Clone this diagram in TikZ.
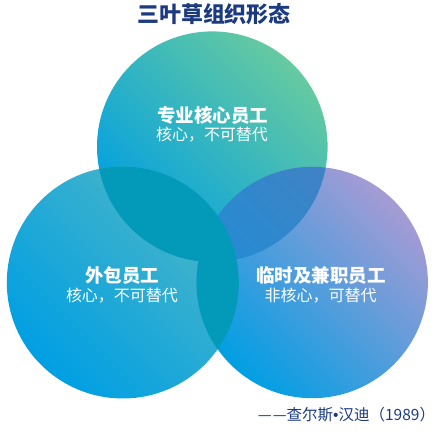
\documentclass[tikz,border=0pt]{standalone}
\usepackage{fontspec}
\setmainfont{Noto Sans CJK SC}
\newfontfamily\libfont{Liberation Sans}
\begin{document}
\begin{tikzpicture}[x=1pt,y=1pt,
  title/.style={font=\bfseries\fontsize{22}{25}\selectfont, text=navy},
  head/.style={font=\bfseries\fontsize{18.5}{22}\selectfont, text=white},
  sub/.style={font=\fontsize{16}{19}\selectfont, text=white},
  credit/.style={font=\fontsize{15.5}{17}\selectfont, text=navy}]
\definecolor{navy}{HTML}{1B3A80}
\definecolor{blueA}{HTML}{009FE3}
\definecolor{greenT}{HTML}{66CAA0}
\definecolor{tealL}{HTML}{4CB6C6}
\definecolor{lavR}{HTML}{A69BD4}
\definecolor{lap}{HTML}{0399B8}
\definecolor{lapA}{HTML}{1C8FD8}
\definecolor{lapB}{HTML}{4A7EBE}
\useasboundingbox (0,0) rectangle (448,436);
\coordinate (T) at (212.3,289.3);
\coordinate (L) at (122.8,153.5);
\coordinate (R) at (312.2,153.5);
\shade[top color=greenT, bottom color=blueA, shading angle=-45] (T) circle (115.3);
\shade[top color=tealL, bottom color=blueA, shading angle=-45] (L) circle (116);
\shade[top color=lavR, bottom color=blueA, shading angle=-45] (R) circle (115.7);
\begin{scope}
  \clip (R) circle (115.7);
  \shade[top color=lapB, bottom color=lapA, shading angle=-45] (T) circle (115.3);
\end{scope}
\begin{scope}
  \clip (L) circle (116);
  \fill[lap] (T) circle (115.3) (R) circle (115.7);
\end{scope}
\node[title] (t) at (214,422) {三叶草组织形态};
\node[head] (h1) at (212.7,321) {专业核心员工};
\node[sub] (s1) at (212,301) {核心，不可替代};
\node[head] (h2) at (122,160) {外包员工};
\node[sub] (s2) at (122,140) {核心，不可替代};
\node[head] (h3) at (320.8,160) {临时及兼职员工};
\node[sub] (s3) at (320.5,140) {非核心，可替代};
\node[credit] (c) at (346.5,21) {—\kern1pt—查尔斯{\libfont •}汉迪（1989）};
\end{tikzpicture}
\end{document}
